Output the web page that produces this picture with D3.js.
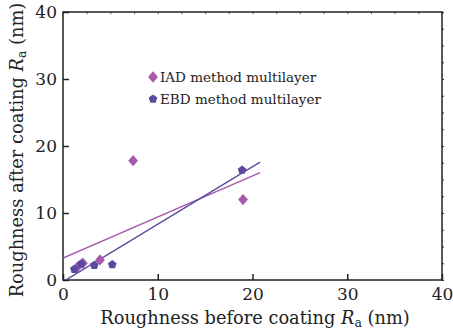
<!DOCTYPE html>
<html><head><meta charset="utf-8">
<script src="https://cdn.jsdelivr.net/npm/d3@7"></script>
<style>body{margin:0;background:#fff}svg{display:block}text{font-family:"DejaVu Serif",serif;fill:#222}</style>
</head><body><svg id="c" width="453" height="332"></svg>
<script>
const seriesNames = ["IAD method multilayer", "EBD method multilayer"];
const iadX = [1.5, 2.1, 3.9, 7.4, 19.0];
const iadY = [1.9, 2.5, 3.0, 17.8, 12.0];
const ebdX = [1.2, 1.9, 3.3, 5.2, 18.9];
const ebdY = [1.6, 2.4, 2.2, 2.3, 16.4];
const xTicks = [0, 10, 20, 30, 40];
const yTicks = [0, 10, 20, 30, 40];
const fitRange = [0, 20.8];
const colors = ["#a65aaa", "#5a4b9f"];

const svg = d3.select("#c");
const m = {l: 63, r: 442, t: 12, b: 280};
const x = d3.scaleLinear().domain([0, 40]).range([m.l, m.r]);
const y = d3.scaleLinear().domain([0, 40]).range([m.b, m.t]);

const defs = svg.append("defs");
defs.append("clipPath").attr("id", "clip").append("rect")
  .attr("x", m.l).attr("y", m.t).attr("width", m.r - m.l).attr("height", m.b - m.t);

// minor ticks top/right
const minor = d3.range(0, 40.01, 2.5);
svg.append("g").attr("transform", `translate(0,${m.t})`)
  .call(d3.axisTop(x).tickValues(minor).tickSize(-2).tickFormat(""))
  .call(g => g.select(".domain").remove())
  .selectAll("line").attr("stroke", "#555").attr("stroke-width", 1);
svg.append("g").attr("transform", `translate(${m.r},0)`)
  .call(d3.axisRight(y).tickValues(minor).tickSize(2).tickFormat(""))
  .call(g => g.select(".domain").remove())
  .selectAll("line").attr("stroke", "#333").attr("stroke-width", 1);

// box
svg.append("rect").attr("x", m.l).attr("y", m.t).attr("width", m.r - m.l).attr("height", m.b - m.t)
  .attr("fill", "none").attr("stroke", "#222").attr("stroke-width", 1.5);

const gx = svg.append("g").attr("transform", `translate(0,${m.b})`)
  .call(d3.axisBottom(x).tickValues(xTicks).tickSize(-6).tickPadding(8).tickFormat(d3.format("d")));
gx.select(".domain").remove();
gx.selectAll("line").attr("stroke", "#222").attr("stroke-width", 1.5);
gx.selectAll("text").attr("font-size", 17).attr("font-family", "DejaVu Serif").attr("fill", "#222");

const gy = svg.append("g").attr("transform", `translate(${m.l},0)`)
  .call(d3.axisLeft(y).tickValues(yTicks).tickSize(-6).tickPadding(12).tickFormat(d3.format("d")));
gy.select(".domain").remove();
gy.selectAll("line").attr("stroke", "#222").attr("stroke-width", 1.5);
gy.selectAll("text").attr("font-size", 17).attr("font-family", "DejaVu Serif").attr("fill", "#222").attr("dx", 6);

function fit(xs, ys) {
  const mx = d3.mean(xs), my = d3.mean(ys);
  const sxy = d3.sum(xs, (v, i) => (v - mx) * (ys[i] - my));
  const sxx = d3.sum(xs, v => (v - mx) ** 2);
  const b = sxy / sxx;
  return [b, my - b * mx];
}
const pentagon = {draw(ctx, size) {
  const r = Math.sqrt(size / 2.378);
  for (let i = 0; i < 5; i++) {
    const a = -Math.PI / 2 + i * 2 * Math.PI / 5;
    const px = r * Math.cos(a), py = r * Math.sin(a);
    i ? ctx.lineTo(px, py) : ctx.moveTo(px, py);
  }
  ctx.closePath();
}};
const diamond = {draw(ctx, size) {
  const w = Math.sqrt(size / 2);
  ctx.moveTo(0, -w * 1.15); ctx.lineTo(w, 0); ctx.lineTo(0, w * 1.15); ctx.lineTo(-w, 0); ctx.closePath();
}};
const series = [
  {xs: iadX, ys: iadY, color: colors[0], sym: diamond, size: 48},
  {xs: ebdX, ys: ebdY, color: colors[1], sym: pentagon, size: 50}
];

const plot = svg.append("g").attr("clip-path", "url(#clip)");
series.forEach(s => {
  const [b, a] = fit(s.xs, s.ys);
  plot.append("line")
    .attr("x1", x(fitRange[0])).attr("y1", y(a + b * fitRange[0]))
    .attr("x2", x(fitRange[1])).attr("y2", y(a + b * fitRange[1]))
    .attr("stroke", s.color).attr("stroke-width", 1.4);
});
series.forEach(s => {
  plot.selectAll(null).data(s.xs).enter().append("path")
    .attr("d", d3.symbol().type(s.sym).size(s.size))
    .attr("transform", (d, i) => `translate(${x(d)},${y(s.ys[i])})`)
    .attr("fill", s.color);
});

// legend
const leg = svg.append("g");
series.forEach((s, i) => {
  const yy = 77 + i * 22;
  leg.append("path").attr("d", d3.symbol().type(s.sym).size(s.size))
    .attr("transform", `translate(153,${yy})`).attr("fill", s.color);
  leg.append("text").attr("x", 160).attr("y", yy + 5).attr("font-size", 13.5)
    .text(seriesNames[i]);
});

// axis titles
const xt = svg.append("text").attr("x", 255).attr("y", 324).attr("text-anchor", "middle").attr("font-size", 17.8);
xt.append("tspan").text("Roughness before coating ");
xt.append("tspan").attr("font-style", "italic").text("R");
xt.append("tspan").attr("font-size", 12.5).attr("dy", 3).text("a");
xt.append("tspan").attr("dy", -3).text(" (nm)");

const yt = svg.append("text").attr("transform", "translate(23,150) rotate(-90)").attr("text-anchor", "middle").attr("font-size", 17.8);
yt.append("tspan").text("Roughness after coating ");
yt.append("tspan").attr("font-style", "italic").text("R");
yt.append("tspan").attr("font-size", 12.5).attr("dy", 3).text("a");
yt.append("tspan").attr("dy", -3).text(" (nm)");
</script></body></html>
